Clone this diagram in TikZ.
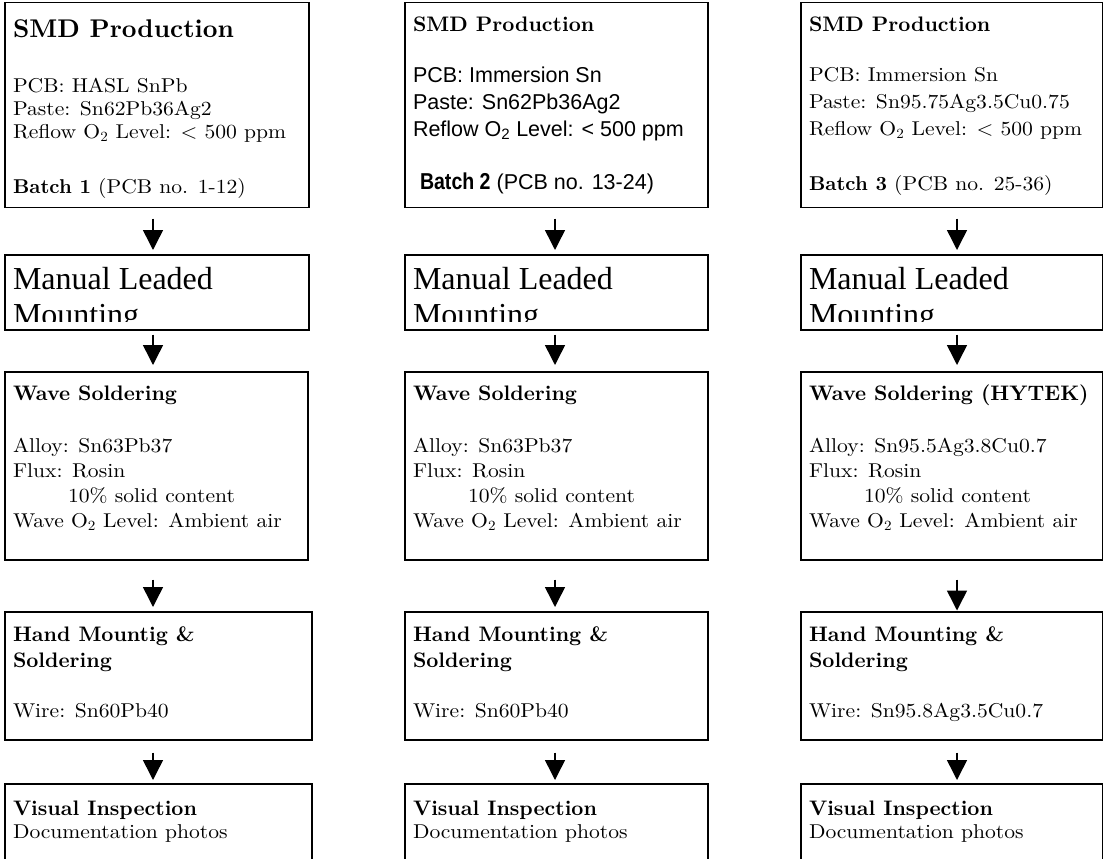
\documentclass[tikz,border=0pt]{standalone}
\usepackage{fontspec}
\usetikzlibrary{arrows.meta}
\newfontfamily\bodyf{lmroman10-regular}[Extension=.otf,FakeStretch=1.08]
\newfontfamily\headf{lmroman10-bold}[Extension=.otf]
\newfontfamily\sansf{Liberation Sans}
\newfontfamily\narrowf{Liberation Sans}[FakeStretch=0.85]
\newfontfamily\timesf{Liberation Serif}
\tikzset{
  box/.style={draw, line width=1.6bp, anchor=north west, inner sep=0pt},
  txt/.style={anchor=base west, inner sep=0pt, outer sep=0pt, align=left},
  body/.style={txt, font=\bodyf\fontsize{20bp}{23bp}\selectfont},
  bodyw/.style={txt, font=\bodyf\fontsize{20bp}{25bp}\selectfont},
  bodyc/.style={txt, font=\bodyf\fontsize{20bp}{26.7bp}\selectfont},
  sansbody/.style={txt, font=\sansf\fontsize{21.5bp}{27bp}\selectfont},
  hbig/.style={txt, font=\headf\fontsize{25.6bp}{30bp}\selectfont},
  head/.style={txt, font=\headf\fontsize{21bp}{26bp}\selectfont},
  manual/.style={txt, font=\timesf\fontsize{32bp}{36bp}\selectfont},
  arr/.style={line width=1.5bp, -{Triangle[width=20bp,length=20bp]}}
}
\begin{document}
\begin{tikzpicture}[x=1bp,y=-1bp]
\useasboundingbox (0,0) rectangle (1103,859);
\clip (0,0) rectangle (1103,859);
% ---------- boxes ----------
% column 1
\node[box, minimum width=304bp, minimum height=205bp] (a1) at (4,1.5) {};
\node[box, minimum width=304bp, minimum height=75bp]  (b1) at (4,254) {};
\node[box, minimum width=303bp, minimum height=188bp] (c1) at (4,371) {};
\node[box, minimum width=307bp, minimum height=128bp] (d1) at (4,611) {};
\node[box, minimum width=307bp, minimum height=120bp] (e1) at (4,783) {};
% column 2
\node[box, minimum width=303bp, minimum height=205bp] (a2) at (404,1.5) {};
\node[box, minimum width=303bp, minimum height=75bp]  (b2) at (404,254) {};
\node[box, minimum width=303bp, minimum height=188bp] (c2) at (404,371) {};
\node[box, minimum width=303bp, minimum height=128bp] (d2) at (404,611) {};
\node[box, minimum width=303bp, minimum height=120bp] (e2) at (404,783) {};
% column 3
\node[box, minimum width=301.5bp, minimum height=205bp] (a3) at (800,1.5) {};
\node[box, minimum width=301.5bp, minimum height=75bp]  (b3) at (800,254) {};
\node[box, minimum width=301.5bp, minimum height=188bp] (c3) at (800,371) {};
\node[box, minimum width=301.5bp, minimum height=128bp] (d3) at (800,611) {};
\node[box, minimum width=301.5bp, minimum height=120bp] (e3) at (800,783) {};
% ---------- texts column 1 (multi-line nodes are placed by their last baseline) ----------
\node[hbig] (a1h) at (13,37) {SMD Production};
\node[body] (a1p) at (13,138) {PCB: HASL SnPb\\Paste: Sn62Pb36Ag2\\Reflow O\textsubscript{2} Level: < 500 ppm};
\node[body] (a1b) at (13,193) {{\headf Batch 1} (PCB no. 1-12)};
\begin{scope}
\clip (4,254) rectangle (308,321);
\node[manual] (b1t) at (13,325) {Manual Leaded\\Mounting};
\end{scope}
\node[head] (c1h) at (13,400) {Wave Soldering};
\node[bodyw] (c1p) at (13,527) {Alloy: Sn63Pb37\\Flux: Rosin\\\hspace*{55bp}10\% solid content\\Wave O\textsubscript{2} Level: Ambient air};
\node[head] (d1h) at (13,667) {Hand Mountig \&\\Soldering};
\node[body] (d1w) at (13,717) {Wire: Sn60Pb40};
\node[head] (e1h) at (13,815) {Visual Inspection};
\node[body] (e1d) at (13,838) {Documentation photos};
% ---------- texts column 2 ----------
\node[head] (a2h) at (413,31) {SMD Production};
\node[sansbody] (a2p) at (413,136) {PCB: Immersion Sn\\Paste: Sn62Pb36Ag2\\Reflow O\textsubscript{2} Level: < 500 ppm};
\node[sansbody] (a2b) at (420,189) {{\narrowf\bfseries\fontsize{23bp}{27bp}\selectfont Batch 2} (PCB no. 13-24)};
\begin{scope}
\clip (404,254) rectangle (707,321);
\node[manual] (b2t) at (413,325) {Manual Leaded\\Mounting};
\end{scope}
\node[head] (c2h) at (413,400) {Wave Soldering};
\node[bodyw] (c2p) at (413,527) {Alloy: Sn63Pb37\\Flux: Rosin\\\hspace*{55bp}10\% solid content\\Wave O\textsubscript{2} Level: Ambient air};
\node[head] (d2h) at (413,667) {Hand Mounting \&\\Soldering};
\node[body] (d2w) at (413,717) {Wire: Sn60Pb40};
\node[head] (e2h) at (413,815) {Visual Inspection};
\node[body] (e2d) at (413,838) {Documentation photos};
% ---------- texts column 3 ----------
\node[head] (a3h) at (809,31) {SMD Production};
\node[bodyc] (a3p) at (809,135) {PCB: Immersion Sn\\Paste: Sn95.75Ag3.5Cu0.75\\Reflow O\textsubscript{2} Level: < 500 ppm};
\node[body] (a3b) at (809,190) {{\headf Batch 3} (PCB no. 25-36)};
\begin{scope}
\clip (800,254) rectangle (1102,321);
\node[manual] (b3t) at (809,325) {Manual Leaded\\Mounting};
\end{scope}
\node[head] (c3h) at (809,400) {Wave Soldering (HYTEK)};
\node[bodyw] (c3p) at (809,527) {Alloy: Sn95.5Ag3.8Cu0.7\\Flux: Rosin\\\hspace*{55bp}10\% solid content\\Wave O\textsubscript{2} Level: Ambient air};
\node[head] (d3h) at (809,667) {Hand Mounting \&\\Soldering};
\node[body] (d3w) at (809,717) {Wire: Sn95.8Ag3.5Cu0.7};
\node[head] (e3h) at (809,815) {Visual Inspection};
\node[body] (e3d) at (809,838) {Documentation photos};
% ---------- arrows ----------
\coordinate (x1) at (153,0);
\coordinate (x2) at (555,0);
\coordinate (x3) at (957,0);
\foreach \c in {1,2,3}{
  \draw[arr, shorten <=10.5bp, shorten >=4bp] (a\c.south -| x\c) -- (b\c.north -| x\c);
  \draw[arr, shorten <=4bp, shorten >=6bp] (b\c.south -| x\c) -- (c\c.north -| x\c);
  \draw[arr, shorten <=12bp, shorten >=3bp] (d\c.south -| x\c) -- (e\c.north -| x\c);
}
\draw[arr, shorten <=19bp, shorten >=4bp] (c1.south -| x1) -- (d1.north -| x1);
\draw[arr, shorten <=19bp, shorten >=4bp] (c2.south -| x2) -- (d2.north -| x2);
\draw[arr, shorten <=19bp, shorten >=0.5bp] (c3.south -| x3) -- (d3.north -| x3);
\end{tikzpicture}
\end{document}
